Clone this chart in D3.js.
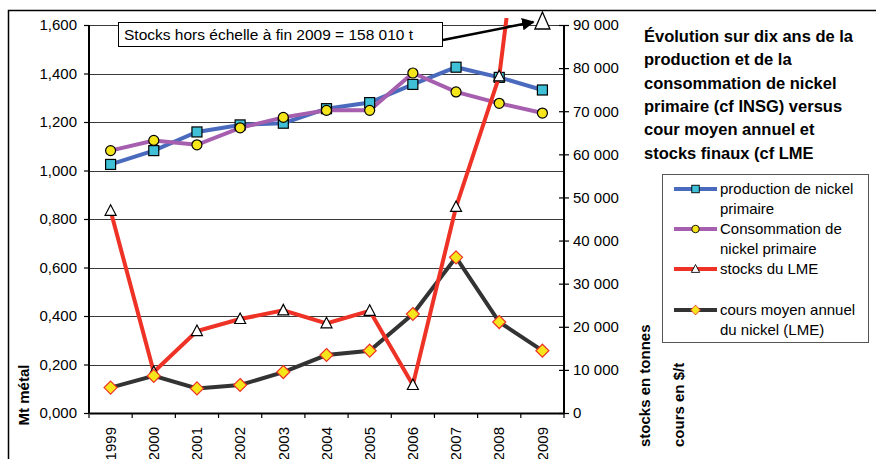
<!DOCTYPE html>
<html>
<head>
<meta charset="utf-8">
<script src="https://cdn.jsdelivr.net/npm/d3@7"></script>
<style>
  html, body { margin: 0; padding: 0; background: #fff; }
  svg { display: block; font-family: "Liberation Sans", Arial, sans-serif; }
</style>
</head>
<body>
<div id="chart"></div>
<script>
const years = ["1999","2000","2001","2002","2003","2004","2005","2006","2007","2008","2009"];
const production = [1.025, 1.082, 1.159, 1.188, 1.195, 1.255, 1.280, 1.355, 1.426, 1.384, 1.332];
const consommation = [1.082, 1.124, 1.106, 1.176, 1.219, 1.248, 1.248, 1.402, 1.324, 1.277, 1.237];
const stocks = [46900, 9500, 19000, 21800, 23800, 20800, 23700, 6500, 47800, 78100, 158010];
const cours = [5900, 8600, 5700, 6500, 9500, 13450, 14450, 22960, 36100, 21100, 14450];
const leftTicks = [0, 0.2, 0.4, 0.6, 0.8, 1.0, 1.2, 1.4, 1.6];
const rightTicks = [0, 10000, 20000, 30000, 40000, 50000, 60000, 70000, 80000, 90000];
const titleLines = ["Évolution sur dix ans de la", "production et de la", "consommation de nickel",
  "primaire (cf INSG) versus", "cour moyen annuel et", "stocks finaux (cf LME"];
const legendItems = [
  {key: "prod", lines: ["production de nickel", "primaire"]},
  {key: "cons", lines: ["Consommation de", "nickel primaire"]},
  {key: "stock", lines: ["stocks du LME", ""]},
  {key: "cours", lines: ["cours moyen annuel", "du nickel (LME)"]}
];
const annotation = "Stocks hors échelle à fin 2009 = 158 010 t";

const W = 876, H = 459;
const plot = {left: 89, right: 564, top: 25, bottom: 413};
const col = {
  prodLine: "#4a6bbd", prodFill: "#3fc0d6",
  consLine: "#a65eae", yellow: "#f5e61c",
  red: "#ee3226", dark: "#333333"
};

const svg = d3.select("#chart").append("svg").attr("width", W).attr("height", H);

// frame
svg.append("rect").attr("x", 8.5).attr("y", 10.5).attr("width", W + 10).attr("height", H + 10)
  .attr("fill", "#fff").attr("stroke", "#000").attr("stroke-width", 1.5);

const x = d3.scaleBand().domain(years).range([plot.left, plot.right]);
const cx = d => x(d) + x.bandwidth() / 2;
const yL = d3.scaleLinear().domain([0, 1.6]).range([plot.bottom, plot.top]);
const yR = d3.scaleLinear().domain([0, 90000]).range([plot.bottom, plot.top]);

const fr = d3.formatLocale({decimal: ",", thousands: " ", grouping: [3], currency: ["", "$"]});
const fmtL = fr.format(".3f");
const fmtR = fr.format(",.0f");

// gridlines
svg.append("g").selectAll("line").data(leftTicks.filter(d => d > 0)).join("line")
  .attr("x1", plot.left).attr("x2", plot.right)
  .attr("y1", d => Math.round(yL(d)) + 0.5).attr("y2", d => Math.round(yL(d)) + 0.5)
  .attr("stroke", "#3a3a3a").attr("stroke-width", 1);

// left axis
const gL = svg.append("g").attr("transform", `translate(${plot.left},0)`)
  .call(d3.axisLeft(yL).tickValues(leftTicks).tickFormat(fmtL).tickSize(5).tickPadding(7));
// right axis
const gR = svg.append("g").attr("transform", `translate(${plot.right},0)`)
  .call(d3.axisRight(yR).tickValues(rightTicks).tickFormat(fmtR).tickSize(5).tickPadding(4));
gR.selectAll(".tick line").attr("x1", -5);
// bottom axis
const gB = svg.append("g").attr("transform", `translate(0,${plot.bottom})`)
  .call(d3.axisBottom(x).tickSize(0).tickFormat(""));
gB.selectAll("line.bt").data(d3.range(years.length + 1)).join("line").attr("class", "bt")
  .attr("x1", i => plot.left + i * x.step()).attr("x2", i => plot.left + i * x.step())
  .attr("y1", 0).attr("y2", 5).attr("stroke", "#000").attr("stroke-width", 1.2);
gB.selectAll("text.yl").data(years).join("text").attr("class", "yl")
  .attr("transform", d => `translate(${cx(d)},14) rotate(-90)`)
  .attr("text-anchor", "end").attr("dy", "0.35em")
  .attr("font-size", 15).attr("fill", "#000").text(d => d);

[gL, gR, gB].forEach(g => {
  g.selectAll(".domain").attr("stroke", "#000").attr("stroke-width", 2);
  g.selectAll(".tick line").attr("stroke", "#000").attr("stroke-width", 1.2);
  g.selectAll(".tick text").attr("font-size", 15).attr("fill", "#000");
});
gL.select(".domain").attr("d", `M0,${plot.bottom}V${plot.top}`);
gR.select(".domain").attr("d", `M0,${plot.bottom}V${plot.top}`);

// axis titles
svg.append("text").attr("transform", "translate(24,395) rotate(-90)")
  .attr("text-anchor", "middle").attr("dy", "0.35em")
  .attr("font-size", 15).attr("font-weight", "bold").text("Mt métal");
svg.append("text").attr("transform", "translate(645,447) rotate(-90)")
  .attr("text-anchor", "start").attr("dy", "0.35em")
  .attr("font-size", 15).attr("font-weight", "bold").text("stocks en tonnes");
svg.append("text").attr("transform", "translate(679,447) rotate(-90)")
  .attr("text-anchor", "start").attr("dy", "0.35em")
  .attr("font-size", 15).attr("font-weight", "bold").text("cours en $/t");

// clip for out-of-scale stock line
svg.append("clipPath").attr("id", "clip").append("rect")
  .attr("x", plot.left).attr("y", 18).attr("width", plot.right - plot.left).attr("height", plot.bottom - 18);

const lineL = d3.line().x((d, i) => cx(years[i])).y(d => yL(d));
const lineR = d3.line().x((d, i) => cx(years[i])).y(d => yR(d));

// marker drawing helpers
const sym = {
  prod: sel => sel.append("rect").attr("x", -5).attr("y", -5).attr("width", 10).attr("height", 10)
    .attr("fill", col.prodFill).attr("stroke", "#000").attr("stroke-width", 1.2),
  cons: sel => sel.append("circle").attr("r", 5)
    .attr("fill", col.yellow).attr("stroke", "#000").attr("stroke-width", 1.2),
  stock: sel => sel.append("path").attr("d", "M0,-6L5.5,4.5L-5.5,4.5Z")
    .attr("fill", "#fff").attr("stroke", "#000").attr("stroke-width", 1.2),
  cours: sel => sel.append("path").attr("d", "M0,-6.5L6.5,0L0,6.5L-6.5,0Z")
    .attr("fill", col.yellow).attr("stroke", col.red).attr("stroke-width", 1.2)
};

function markers(values, yScale, key, n) {
  svg.append("g").selectAll("g").data(values.slice(0, n)).join("g")
    .attr("transform", (d, i) => `translate(${cx(years[i])},${yScale(d)})`)
    .call(sym[key]);
}

// primary series
svg.append("path").attr("d", lineL(production)).attr("fill", "none")
  .attr("stroke", col.prodLine).attr("stroke-width", 4);
svg.append("path").attr("d", lineL(consommation)).attr("fill", "none")
  .attr("stroke", col.consLine).attr("stroke-width", 4);
markers(production, yL, "prod", production.length);
markers(consommation, yL, "cons", consommation.length);

// secondary series
svg.append("path").attr("d", lineR(cours)).attr("fill", "none")
  .attr("stroke", col.dark).attr("stroke-width", 4);
svg.append("path").attr("d", lineR(stocks)).attr("fill", "none").attr("clip-path", "url(#clip)")
  .attr("stroke", col.red).attr("stroke-width", 4);
markers(stocks, yR, "stock", stocks.length - 1);
markers(cours, yR, "cours", cours.length);

// out-of-scale 2009 stock marker
const last = years[years.length - 1];
svg.append("path")
  .attr("transform", `translate(${cx(last)},${yR(90000) - 4})`)
  .attr("d", "M0,-9L7.5,8L-7.5,8Z")
  .attr("fill", "#fff").attr("stroke", "#000").attr("stroke-width", 1.3);

// annotation box + arrow
const ann = svg.append("g");
ann.append("rect").attr("x", 118.5).attr("y", 22.5).attr("width", 324).attr("height", 24)
  .attr("fill", "#fff").attr("stroke", "#000").attr("stroke-width", 1);
ann.append("text").attr("x", 124).attr("y", 40).attr("font-size", 15.5).text(annotation);
svg.append("defs").append("marker").attr("id", "arr")
  .attr("viewBox", "0 0 10 10").attr("refX", 9).attr("refY", 5)
  .attr("markerWidth", 5).attr("markerHeight", 5).attr("orient", "auto")
  .append("path").attr("d", "M0,0L10,5L0,10Z").attr("fill", "#000");
svg.append("line").attr("x1", 443).attr("y1", 40)
  .attr("x2", cx(last) - 9).attr("y2", yR(90000) - 3)
  .attr("stroke", "#000").attr("stroke-width", 2.5).attr("marker-end", "url(#arr)");

// title
svg.append("g").selectAll("text").data(titleLines).join("text")
  .attr("x", 644).attr("y", (d, i) => 42 + i * 23.3)
  .attr("font-size", 16.5).attr("font-weight", "bold").text(d => d);

// legend
const lg = svg.append("g");
lg.append("rect").attr("x", 662.5).attr("y", 174.5).attr("width", 206).attr("height", 168)
  .attr("fill", "#fff").attr("stroke", "#555").attr("stroke-width", 1);
const lineCol = {prod: col.prodLine, cons: col.consLine, stock: col.red, cours: col.dark};
legendItems.forEach((it, k) => {
  const base = 194 + k * 40 + (k === 3 ? 1 : 0);
  lg.append("line").attr("x1", 674).attr("x2", 717).attr("y1", base - 5).attr("y2", base - 5)
    .attr("stroke", lineCol[it.key]).attr("stroke-width", 4);
  lg.append("g").attr("transform", `translate(695.5,${base - 5}) scale(0.75)`).call(sym[it.key]);
  it.lines.forEach((t, j) => {
    lg.append("text").attr("x", 720).attr("y", base + j * 20).attr("font-size", 15).text(t);
  });
});
</script>
</body>
</html>
